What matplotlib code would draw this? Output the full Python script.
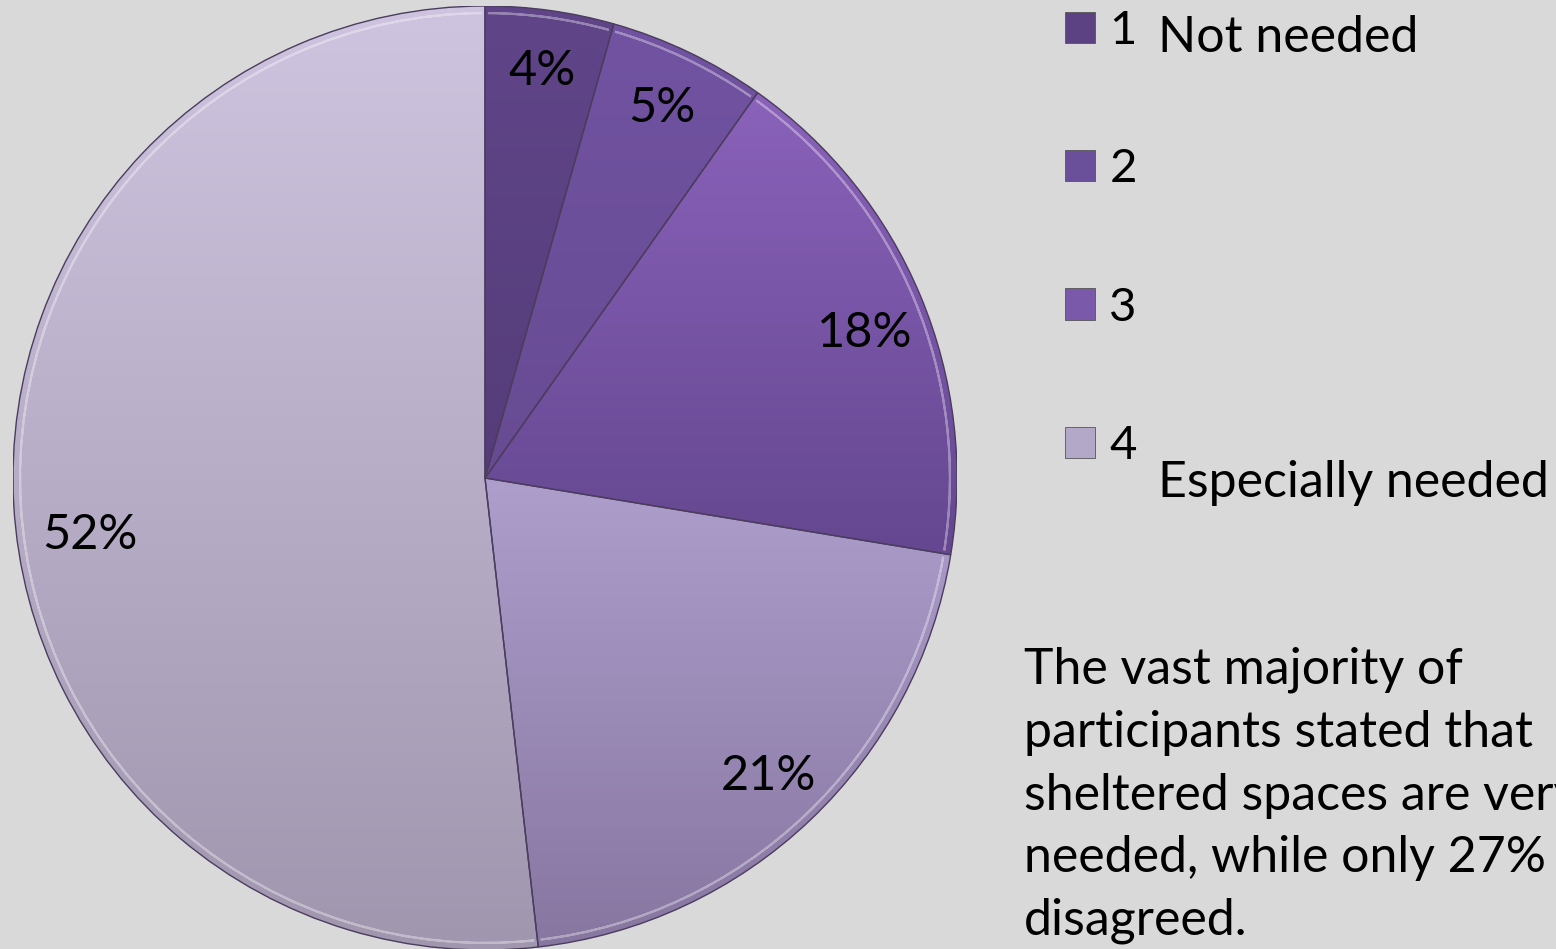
import numpy as np
import matplotlib
matplotlib.use("Agg")
import matplotlib.pyplot as plt
from matplotlib.colors import LinearSegmentedColormap
from matplotlib.patches import Patch, Wedge

plt.rcParams['font.family'] = ['Lato', 'DejaVu Sans']

# slice shares (labels show rounded %)
shares = [4.4, 5.4, 17.8, 20.6, 51.8]
# top / bottom shade for each slice
tops = ['#604689', '#7153a2', '#8a62ba', '#ae9ecc', '#cec4df']
bottoms = ['#553c79', '#674b92', '#644790', '#8676a0', '#a096ae']
legend_labels = ['1', '2', '3', '4']
legend_colors = ['#5c4282', '#6a4f9a', '#7a58aa', '#b4a8c8']
note = ("The vast majority of\nparticipants stated that\n"
        "sheltered spaces are very\nneeded, while only 27%\ndisagreed.")

W, H = 1556, 949
FS = 36
fig = plt.figure(figsize=(W / 100, H / 100), dpi=100, facecolor='#d9d9d9')

# pie area: centre (485, 478) px, radius 472 px
cx, cy, r = 485, 478, 472
ax = fig.add_axes([(cx - r) / W, (H - cy - r) / H, 2 * r / W, 2 * r / H])
ax.axis('off')

wedges, _, pct = ax.pie(shares, colors=tops, startangle=90, counterclock=False,
                        radius=1, autopct='%.0f%%', pctdistance=0.87,
                        wedgeprops=dict(linewidth=0))
for t in pct:
    t.set_fontsize(FS - 1)
    t.set_color('black')
    t.set_zorder(5)
# nudge two labels to where the original chart puts them
pct[2].set_position((0.805, 0.307))
pct[4].set_position((-0.837, -0.121))

# vertical gradient inside every slice
for w, top, bot in zip(wedges, tops, bottoms):
    v = w.get_patch_transform().transform(w.get_path().vertices)
    x0, x1 = v[:, 0].min(), v[:, 0].max()
    y0, y1 = v[:, 1].min(), v[:, 1].max()
    cmap = LinearSegmentedColormap.from_list('g', [bot, top])
    grad = np.linspace(0, 1, 256).reshape(-1, 1)
    im = ax.imshow(grad, cmap=cmap, origin='lower', aspect='auto',
                   extent=[x0, x1, y0, y1], zorder=2, interpolation='bilinear')
    im.set_clip_path(w)
    ax.add_patch(Wedge(w.center, w.r, w.theta1, w.theta2, fill=False,
                       edgecolor='#4b3d5e', linewidth=1.0, zorder=3))
    ax.add_patch(Wedge(w.center, w.r * 0.985, w.theta1 + 0.4, w.theta2 - 0.4,
                       width=0, fill=False, edgecolor=(1, 1, 1, 0.35),
                       linewidth=1.5, zorder=3))
ax.set_xlim(-1, 1)
ax.set_ylim(-1, 1)

handles = [Patch(facecolor=c, edgecolor='#555555', linewidth=0.6) for c in legend_colors]
fig.legend(handles, legend_labels, loc='upper left',
           bbox_to_anchor=(1065 / W, 1 - 10 / H), frameon=False, fontsize=FS - 2,
           handlelength=0.64, handleheight=0.64, handletextpad=0.3,
           labelspacing=2.04, borderaxespad=0, borderpad=0)

fig.text(1158 / W, 1 - 52 / H, 'Not needed', fontsize=FS, va='baseline')
fig.text(1158 / W, 1 - 497 / H, 'Especially needed', fontsize=FS, va='baseline')
# multi-line text: y is the baseline of the last line
fig.text(1024 / W, 1 - 935 / H, note, fontsize=FS, va='baseline',
         linespacing=1.45)

fig.savefig('out.png', dpi=100, facecolor=fig.get_facecolor())
